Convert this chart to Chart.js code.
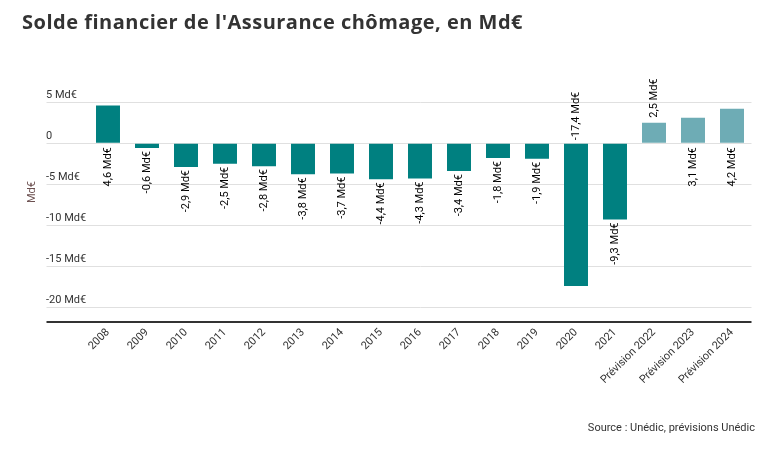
<!DOCTYPE html>
<html lang="fr">
<head>
    <meta charset="UTF-8">
    <title>Solde financier de l'Assurance chômage</title>
    <script src="https://cdn.jsdelivr.net/npm/chart.js"></script>
    <style>
        body {
            margin: 0;
            padding: 0;
            background: #ffffff;
            font-family: Roboto, 'Noto Sans', sans-serif;
        }
        .wrap {
            position: relative;
            width: 783px;
            height: 457px;
        }
        h1 {
            position: absolute;
            left: 22px;
            top: 8px;
            margin: 0;
            font-family: 'Open Sans', sans-serif;
            font-weight: 700;
            font-size: 20px;
            letter-spacing: 0.5px;
            color: #333333;
        }
        .source {
            position: absolute;
            right: 28px;
            top: 421px;
            font-size: 11px;
            color: #333333;
        }
        canvas {
            position: absolute;
            left: 0;
            top: 0;
        }
    </style>
</head>
<body>
<div class="wrap">
    <canvas id="chart" width="783" height="457"></canvas>
    <h1>Solde financier de l'Assurance chômage, en Md€</h1>
    <div class="source">Source : Unédic, prévisions Unédic</div>
</div>
<script>
    const categories = ['2008', '2009', '2010', '2011', '2012', '2013', '2014', '2015', '2016',
        '2017', '2018', '2019', '2020', '2021', 'Prévision 2022', 'Prévision 2023', 'Prévision 2024'];
    const solde = [4.6, -0.6, -2.9, -2.5, -2.8, -3.8, -3.7, -4.4, -4.3, -3.4, -1.8, -1.9, -17.4, -9.3, 2.5, 3.1, 4.2];
    const yTicks = [-20, -15, -10, -5, 0, 5];
    const unit = 'Md€';

    const axisMin = -21.8;
    const axisMax = 9.9;

    // labels drawn on the other side of the zero line
    const labelAtBase = [0, 12, 15, 16];

    const barColors = categories.map(c => c.startsWith('Prévision') ? '#6eacb5' : '#008080');

    const fmt = v => v.toFixed(1).replace('.', ',') + ' ' + unit;

    const barLabels = {
        id: 'barLabels',
        afterDatasetsDraw(chart) {
            const ctx = chart.ctx;
            const zero = chart.scales.y.getPixelForValue(0);
            const bars = chart.getDatasetMeta(0).data;
            ctx.save();
            ctx.font = '11px Roboto';
            ctx.fillStyle = '#000000';
            ctx.textBaseline = 'middle';
            bars.forEach((bar, i) => {
                const v = solde[i];
                const atBase = labelAtBase.includes(i);
                let y, down;
                if (v < 0) {
                    down = !atBase;
                    y = atBase ? zero - 3 : bar.y + 3;
                } else {
                    down = atBase;
                    y = atBase ? zero + 4 : bar.y - 5;
                }
                ctx.save();
                ctx.translate(bar.x, y);
                ctx.rotate(-Math.PI / 2);
                ctx.textAlign = down ? 'right' : 'left';
                ctx.fillText(fmt(v), 0, 0);
                ctx.restore();
            });
            ctx.restore();
        }
    };

    new Chart(document.getElementById('chart'), {
        type: 'bar',
        data: {
            labels: categories,
            datasets: [{
                data: solde,
                backgroundColor: barColors,
                categoryPercentage: 1,
                barPercentage: 0.615
            }]
        },
        options: {
            responsive: false,
            animation: false,
            layout: {
                padding: { left: 46, right: 31.5, top: 62, bottom: 65 }
            },
            plugins: {
                legend: { display: false },
                tooltip: { enabled: false }
            },
            scales: {
                x: {
                    grid: { display: false, drawTicks: false },
                    border: { display: false },
                    ticks: {
                        color: '#333333',
                        font: { family: 'Roboto', size: 11 },
                        maxRotation: 45,
                        minRotation: 45,
                        autoSkip: false,
                        padding: 4
                    },
                    afterFit(scale) { scale.height = 70; }
                },
                y: {
                    min: axisMin,
                    max: axisMax,
                    afterBuildTicks(scale) {
                        scale.ticks = [axisMin].concat(yTicks).map(v => ({ value: v }));
                    },
                    afterFit(scale) { scale.width = 42.5; },
                    border: { display: false },
                    grid: {
                        color: c => c.tick && c.tick.value === axisMin ? '#333333' : '#e0e0e0',
                        lineWidth: c => c.tick && c.tick.value === axisMin ? 2 : 1,
                        tickLength: 42
                    },
                    ticks: {
                        crossAlign: 'far',
                        labelOffset: -7,
                        color: '#333333',
                        font: { family: 'Roboto', size: 11 },
                        callback: v => v === axisMin ? '' : (v === 0 ? '0' : v + ' ' + unit)
                    },
                    title: {
                        display: true,
                        text: unit,
                        color: '#6b4f4f',
                        font: { family: 'Roboto', size: 11 },
                        padding: { top: -20.6, bottom: 0 }
                    }
                }
            }
        },
        plugins: [barLabels]
    });
</script>
</body>
</html>
